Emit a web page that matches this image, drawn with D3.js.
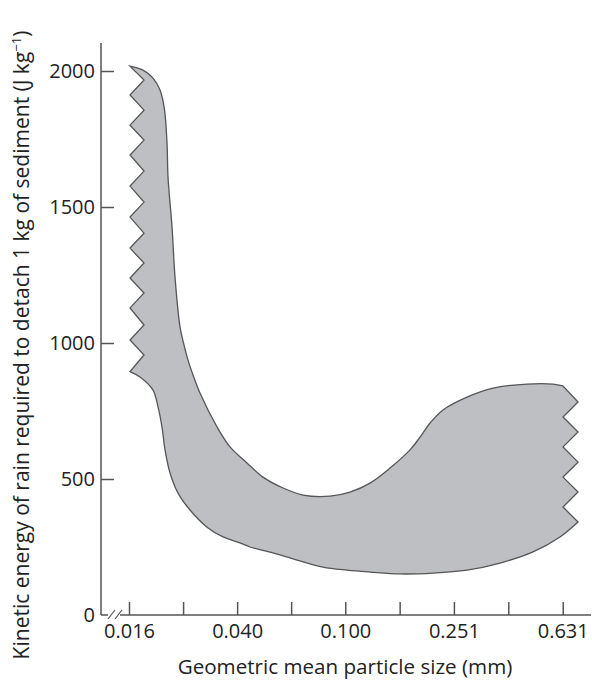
<!DOCTYPE html>
<html>
<head>
<meta charset="utf-8">
<script src="https://cdn.jsdelivr.net/npm/d3@7"></script>
<style>
  body { margin: 0; background: #fff; }
  text { font-family: "Open Sans", "Noto Sans", sans-serif; fill: #222; }
</style>
</head>
<body>
<svg id="chart" width="592" height="685"></svg>
<script>
// band of kinetic energy vs particle size

// axis ticks
var sizeTicks = [0.016, 0.040, 0.100, 0.251, 0.631];
var sizeTickLabels = ['0.016', '0.040', '0.100', '0.251', '0.631'];
var sizeMinorTicks = [0.0253, 0.0632, 0.1585, 0.398];
var energyTicks = [0, 500, 1000, 1500, 2000];

// upper edge of the band (left to right)
var upperSize = [0.01614, 0.01801, 0.01961, 0.02081, 0.02160, 0.02208, 0.02227, 0.02304, 0.02363,
    0.02465, 0.02550, 0.02638, 0.02729, 0.02920, 0.03374, 0.03766, 0.04348, 0.04980, 0.05900,
    0.06989, 0.08787, 0.10408, 0.12334, 0.14607, 0.17306, 0.18841, 0.20509, 0.22890, 0.28050,
    0.34973, 0.46645, 0.58157, 0.63280];
var upperEnergy = [2018, 2003, 1974, 1930, 1860, 1735, 1610, 1426, 1242,
    1059, 993, 937, 893, 816, 691, 618, 559, 507, 467,
    441, 437, 452, 485, 540, 607, 654, 706, 754, 801,
    834, 849, 849, 842];

// lower edge of the band (left to right)
var lowerSize = [0.01614, 0.01756, 0.01961, 0.02046, 0.02116, 0.02171, 0.02265, 0.02424, 0.02683,
    0.03099, 0.03550, 0.04098, 0.04460, 0.05421, 0.06642, 0.08282, 0.10147, 0.12334, 0.15900,
    0.21037, 0.28050, 0.37107, 0.49077, 0.61693, 0.71856];
var lowerEnergy = [895, 875, 827, 765, 691, 607, 522, 448, 386,
    323, 287, 265, 250, 228, 202, 176, 165, 158, 151,
    154, 165, 191, 232, 287, 342];

// jagged break on the left side (top to bottom)
var leftBreakSize = [0.01614, 0.01817, 0.01614, 0.01817, 0.01614, 0.01817, 0.01614, 0.01817, 0.01614,
    0.01817, 0.01614, 0.01817, 0.01614, 0.01817, 0.01614, 0.01817, 0.01614, 0.01817, 0.01614,
    0.01817, 0.01614];
var leftBreakEnergy = [2018, 1967, 1912, 1856, 1801, 1746, 1691, 1632, 1577,
    1518, 1463, 1404, 1349, 1294, 1239, 1184, 1129, 1066, 1011,
    956, 895];

// jagged break on the right side (top to bottom)
var rightBreakSize = [0.63280, 0.71856, 0.63280, 0.71856, 0.63280, 0.71856, 0.63280, 0.71856, 0.63280, 0.71856];
var rightBreakEnergy = [842, 783, 728, 673, 618, 562, 507, 452, 397, 342];

var svg = d3.select('#chart');

// scales
var xScale = d3.scaleLog().domain([0.016, 0.631]).range([129, 562.7]);
var yScale = d3.scaleLinear().domain([0, 2000]).range([615, 71]);

function zip(a, b) {
    return a.map(function(v, i) { return [v, b[i]]; });
}

var smooth = d3.line()
    .x(function(d) { return xScale(d[0]); })
    .y(function(d) { return yScale(d[1]); })
    .curve(d3.curveCatmullRom.alpha(0.5));

var straight = d3.line()
    .x(function(d) { return xScale(d[0]); })
    .y(function(d) { return yScale(d[1]); });

var pathD = smooth(zip(upperSize, upperEnergy))
    + straight(zip(rightBreakSize, rightBreakEnergy)).replace(/^M/, 'L')
    + smooth(zip(lowerSize, lowerEnergy).reverse()).replace(/^M/, 'L')
    + straight(zip(leftBreakSize, leftBreakEnergy).reverse()).replace(/^M/, 'L')
    + 'Z';

svg.append('path')
    .attr('d', pathD)
    .attr('fill', '#bebfc3')
    .attr('stroke', '#555')
    .attr('stroke-width', 1.3)
    .attr('stroke-linejoin', 'miter');

// axis lines
svg.append('line')
    .attr('x1', 101).attr('x2', 101)
    .attr('y1', 43).attr('y2', 615)
    .attr('stroke', '#555').attr('stroke-width', 1.5);

svg.append('line')
    .attr('x1', 101).attr('x2', 591)
    .attr('y1', 615).attr('y2', 615)
    .attr('stroke', '#555').attr('stroke-width', 1.5);

// axis break marks
svg.append('rect')
    .attr('x', 108).attr('y', 612).attr('width', 12).attr('height', 6)
    .attr('fill', '#fff');
[108, 115].forEach(function(x0) {
    svg.append('line')
        .attr('x1', x0).attr('y1', 619)
        .attr('x2', x0 + 7).attr('y2', 610)
        .attr('stroke', '#555').attr('stroke-width', 1.2);
});

// x axis
var xAxis = d3.axisBottom(xScale)
    .tickValues(sizeTicks)
    .tickFormat(function(d, i) { return sizeTickLabels[i]; })
    .tickSizeInner(-13)
    .tickSizeOuter(0)
    .tickPadding(9);

var gx = svg.append('g')
    .attr('transform', 'translate(0,615)')
    .call(xAxis);

var gxMinor = svg.append('g')
    .attr('transform', 'translate(0,615)')
    .call(d3.axisBottom(xScale).tickValues(sizeMinorTicks).tickFormat('').tickSizeInner(-13).tickSizeOuter(0));

// y axis
var yAxis = d3.axisLeft(yScale)
    .tickValues(energyTicks)
    .tickFormat(d3.format('d'))
    .tickSizeInner(-13)
    .tickSizeOuter(0)
    .tickPadding(6);

var gy = svg.append('g')
    .attr('transform', 'translate(101,0)')
    .call(yAxis);

[gx, gxMinor, gy].forEach(function(g) {
    g.select('.domain').remove();
    g.selectAll('.tick line').attr('stroke', '#555').attr('stroke-width', 1.5);
    g.selectAll('.tick text')
        .style('font-family', '"Open Sans", "Noto Sans", sans-serif')
        .style('font-size', '20px')
        .attr('fill', '#222');
});
// the 0 tick line sits on the x axis
gy.selectAll('.tick').filter(function(d) { return d === 0; }).select('line').remove();

// axis titles
svg.append('text')
    .attr('x', 345)
    .attr('y', 674)
    .attr('text-anchor', 'middle')
    .style('font-size', '20.6px')
    .text('Geometric mean particle size (mm)');

var yTitle = svg.append('text')
    .attr('transform', 'translate(29,345) rotate(-90)')
    .attr('text-anchor', 'middle')
    .style('font-size', '21px');
yTitle.append('tspan').text('Kinetic energy of rain required to detach 1 kg of sediment (J kg');
yTitle.append('tspan').attr('dy', -8).style('font-size', '13px').text('\u22121');
yTitle.append('tspan').attr('dy', 8).text(')');
</script>
</body>
</html>
